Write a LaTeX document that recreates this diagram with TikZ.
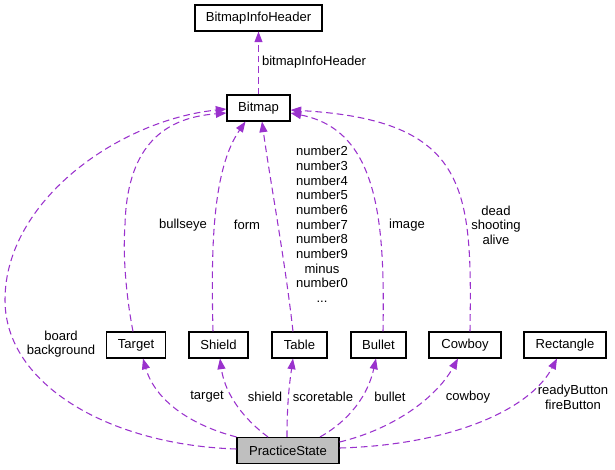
\documentclass[tikz,border=0pt]{standalone}
\usepackage{fontspec}
\setmainfont{Liberation Sans}
\usetikzlibrary{arrows.meta,calc}
\definecolor{edgec}{RGB}{154,50,205}
\definecolor{psfill}{RGB}{191,191,191}
\newcommand{\lblfont}{\fontsize{9.8}{11}\selectfont}
\begin{document}
\begin{tikzpicture}[x=0.75pt,y=-0.75pt,
  cls/.style={draw=black, line width=0.8pt, minimum height=19.5pt, inner sep=0pt, font=\lblfont},
  lbl/.style={inner sep=0pt, align=center, font=\lblfont},
  uses/.style={draw=edgec, line width=0.8pt, dash pattern=on 5pt off 3pt, -{Triangle[length=8pt,width=6pt]}}]
\useasboundingbox (0,0) rectangle (615,469);
% classes
\node[cls, minimum width=95.25pt] (bih) at (258.5,18) {BitmapInfoHeader};
\node[cls, minimum width=47.25pt] (bmp) at (258.5,108) {Bitmap};
\node[cls, minimum width=44.25pt] (target) at (136,345) {Target};
\node[cls, minimum width=44.25pt] (shield) at (218.5,345) {Shield};
\node[cls, minimum width=41.25pt] (table) at (299.5,345) {Table};
\node[cls, minimum width=41.25pt] (bullet) at (378.5,345) {Bullet};
\node[cls, minimum width=54pt] (cowboy) at (465,345) {Cowboy};
\node[cls, minimum width=61.5pt] (rect) at (565,345) {Rectangle};
\node[cls, minimum width=76.5pt, fill=psfill] (ps) at (288,450.5) {PracticeState};
% labels
\node[lbl] (lbih) at (314,62) {bitmapInfoHeader};
\node[lbl] (lboard) at (61,344) {board\\background};
\node[lbl] (lbull) at (183,225) {bullseye};
\node[lbl] (lform) at (247,225) {form};
\node[lbl] (lnum) at (322,224.5) {number2\\number3\\number4\\number5\\number6\\number7\\number8\\number9\\minus\\number0\\...};
\node[lbl] (limage) at (407,225) {image};
\node[lbl] (ldead) at (496,225) {dead\\shooting\\alive};
\node[lbl] (ltarget) at (207,397) {target};
\node[lbl] (lshield) at (265,397) {shield};
\node[lbl] (lscore) at (323,397) {scoretable};
\node[lbl] (lbullet) at (390,397) {bullet};
\node[lbl] (lcowboy) at (468,397) {cowboy};
\node[lbl] (lrect) at (573,397) {readyButton\\fireButton};
% edges
\draw[uses] (bmp.north) -- (bih.south);
\draw[uses] ($(ps.west)+(0,-1.5)$) .. controls (110,445) and (5,385) .. (5,300)
  .. controls (5,200) and (120,120) .. ($(bmp.west)+(0,1)$);
\draw[uses] ($(target.north)+(-3,0)$) .. controls (125,290) and (123,250) .. (125,225)
  .. controls (127,150) and (160,118) .. ($(bmp.west)+(0,5)$);
\draw[uses] ($(shield.north)+(-5.5,0)$) .. controls (211,250) and (212,170) .. ($(bmp.south)+(-13,0)$);
\draw[uses] ($(table.north)+(-6.5,0)$) .. controls (285,260) and (270,180) .. ($(bmp.south)+(3.5,0)$);
\draw[uses] ($(bullet.north)+(4.5,0)$) .. controls (385,220) and (378,130) .. ($(bmp.east)+(0,5)$);
\draw[uses] ($(cowboy.north)+(5,0)$) .. controls (472,190) and (470,120) .. ($(bmp.east)+(0,2)$);
\draw[uses] (ps.north west) .. controls (190,425) and (155,400) .. ($(target.south)+(7,0)$);
\draw[uses] ($(ps.north)+(-20,0)$) .. controls (245,420) and (225,395) .. ($(shield.south)+(1.5,0)$);
\draw[uses] ($(ps.north)+(-1,0)$) .. controls (287,400) and (290,380) .. ($(table.south)+(-6.5,0)$);
\draw[uses] ($(ps.north)+(32,0)$) .. controls (350,420) and (368,395) .. ($(bullet.south)+(-2.5,0)$);
\draw[uses] ($(ps.east)+(0,-8.5)$) .. controls (390,430) and (435,400) .. ($(cowboy.south)+(-7,0)$);
\draw[uses] ($(ps.east)+(0,-2.5)$) .. controls (450,445) and (530,410) .. ($(rect.south)+(-8,0)$);
\end{tikzpicture}
\end{document}
